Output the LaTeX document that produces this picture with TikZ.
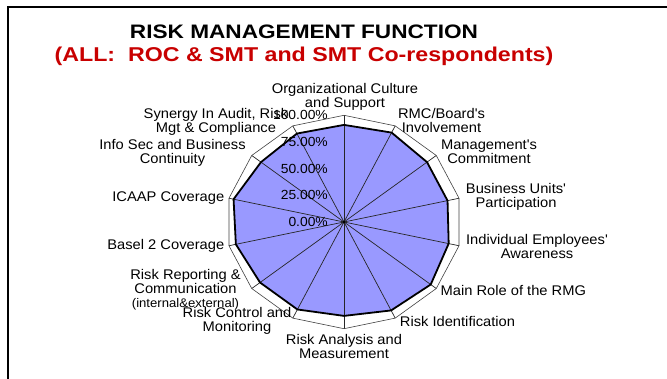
\documentclass[tikz,border=0pt]{standalone}
\usepackage{fontspec}
\setmainfont{Liberation Sans}
\newfontfamily\chartfont[FakeStretch=1.05]{Liberation Sans}
\newfontfamily\titlefont[FakeStretch=1.16]{Liberation Sans}
\usetikzlibrary{calc}
\definecolor{riskred}{RGB}{200,0,0}
\definecolor{radarfill}{RGB}{153,153,255}

\begin{document}
\begin{tikzpicture}[x=1pt, y=1pt]
\tikzset{ catlabel/.style={font=\chartfont\fontsize{14}{14}\selectfont, align=center, inner sep=0pt},
          ticklabel/.style={font=\chartfont\fontsize{13.2}{14}\selectfont, anchor=east, inner sep=0pt},
          spoke/.style={black!85, line width=0.7pt},
          gridline/.style={black!75, line width=0.6pt},
          databorder/.style={black, line width=1.8pt, line join=round} }
\useasboundingbox (0,0) rectangle (667,379);

% frame
\draw [line width=1.6pt] (8,0) -- (8,372) -- (667,372);

% title
\node [font=\titlefont\bfseries\fontsize{19.5}{20}\selectfont, anchor=base, inner sep=0pt] (title) at (304,340) {RISK MANAGEMENT FUNCTION};
\node [font=\titlefont\bfseries\fontsize{20}{20}\selectfont, anchor=base, inner sep=0pt, text=riskred] (subtitle) at (304,317.3) {(ALL:\ \ ROC \& SMT and SMT Co-respondents)};

% radar axes, 14 categories
\coordinate (C) at (344,157);
\foreach \v [count=\i from 0] in {0.91,0.93,0.90,0.90,0.91,0.94,0.92,0.88,0.91,0.91,0.94,0.96,0.90,0.92} {
  \coordinate (O\i) at ($(C)+({118*cos(90-\i*360/14)},{106.7*sin(90-\i*360/14)})$);
  \coordinate (D\i) at ($(C)+({\v*118*cos(90-\i*360/14)},{\v*106.7*sin(90-\i*360/14)})$);
}

\fill [radarfill] (D0) \foreach \i in {1,...,13} {-- (D\i)} -- cycle;
\foreach \i in {0,...,13} \draw [spoke] (C) -- (O\i);
\draw [gridline] (O0) \foreach \i in {1,...,13} {-- (O\i)} -- cycle;
\draw [databorder] (D0) \foreach \i in {1,...,13} {-- (D\i)} -- cycle;
\fill [black] (C) circle (1.6);

% category labels
\node [catlabel] (org)   at (345,282)   {Organizational Culture\\and Support};
\node [catlabel] (rmc)   at (441.5,258) {RMC/Board's\\Involvement};
\node [catlabel] (mgmt)  at (489,227)   {Management's\\Commitment};
\node [catlabel] (bu)    at (516,182)   {Business Units'\\Participation};
\node [catlabel] (emp)   at (537,132.7) {Individual Employees'\\Awareness};
\node [catlabel] (rmg)   at (513.3,88.3){Main Role of the RMG};
\node [catlabel] (ident) at (457.5,57)  {Risk Identification};
\node [catlabel] (anal)  at (344,32.7)  {Risk Analysis and\\Measurement};
\node [catlabel] (ctrl)  at (237,58)    {Risk Control and\\Monitoring};
\node [catlabel] (rep)   at (185.5,89.5){Risk Reporting \&\\Communication\\{\fontsize{12.5}{12}\selectfont (internal\&external)}};
\node [catlabel] (basel) at (165.8,133) {Basel 2 Coverage};
\node [catlabel] (icaap) at (168.3,181.3){ICAAP Coverage};
\node [catlabel] (info)  at (172.5,226.5){Info Sec and Business\\Continuity};
\node [catlabel] (syn)   at (216,256.8) {Synergy In Audit, Risk\\Mgt \& Compliance};

% scale labels
\node [ticklabel] (t0)   at (328,157)   {0.00\%};
\node [ticklabel] (t25)  at (328,183.7) {25.00\%};
\node [ticklabel] (t50)  at (328,210.4) {50.00\%};
\node [ticklabel] (t75)  at (328,237)   {75.00\%};
\node [ticklabel] (t100) at (328,263.7) {100.00\%};

\end{tikzpicture}
\end{document}
